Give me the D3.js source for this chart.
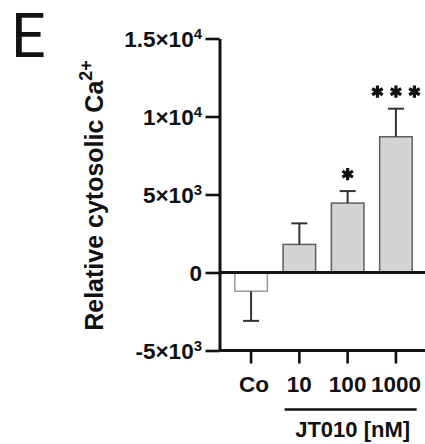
<!DOCTYPE html>
<html>
<head>
<meta charset="utf-8">
<script src="https://cdn.jsdelivr.net/npm/d3@7"></script>
<style>
  html, body { margin: 0; padding: 0; background: #fff; }
  svg { display: block; }
  text { font-family: "Liberation Sans", Arial, sans-serif; font-weight: bold; fill: #111; }
</style>
</head>
<body>
<svg id="chart" width="425" height="444"></svg>
<script>
// Groups and measured means with their one-sided SD
const categories = ["Co", "10", "100", "1000"];
const means = [-1200, 1800, 4450, 8700];
const errors = [1900, 1350, 770, 1800];
const significance = ["", "", "*", "***"];

// Y axis ticks, written as mantissa × 10^exponent
const tickValues = [-5000, 0, 5000, 10000, 15000];
const tickMantissa = ["-5×10", "0", "5×10", "1×10", "1.5×10"];
const tickExponent = ["3", "", "3", "4", "4"];

const yTitle = "Relative cytosolic Ca";
const yTitleSup = "2+";
const groupTitle = "JT010 [nM]";
const panelLetter = "E";

const svg = d3.select("#chart");

const x = d3.scaleBand()
  .domain(categories)
  .range([219.5, 427.5])
  .paddingInner(0.326)
  .paddingOuter(0.317);

const y = d3.scaleLinear()
  .domain([-5000, 15000])
  .range([350.5, 38.5]);

const xLeft = x.range()[0];
const xRight = 425;

// Bars
const bars = svg.append("g");
categories.forEach((c, i) => {
  const v = means[i];
  bars.append("rect")
    .attr("x", x(c))
    .attr("width", x.bandwidth())
    .attr("y", Math.min(y(v), y(0)))
    .attr("height", Math.abs(y(v) - y(0)))
    .attr("fill", i === 0 ? "#ffffff" : "#d4d4d4")
    .attr("stroke", i === 0 ? "#9a9a9a" : "#5e5e5e")
    .attr("stroke-width", 1.5);
});

// One-sided error bars, pointing away from zero
const err = svg.append("g").attr("stroke", "#333").attr("stroke-width", 2).attr("fill", "none");
categories.forEach((c, i) => {
  const v = means[i];
  const end = v >= 0 ? v + errors[i] : v - errors[i];
  const cx = x(c) + x.bandwidth() / 2;
  err.append("line").attr("x1", cx).attr("x2", cx).attr("y1", y(v)).attr("y2", y(end));
  err.append("line").attr("x1", cx - 8).attr("x2", cx + 8).attr("y1", y(end)).attr("y2", y(end));
});

// Significance asterisks above the error bars
const starShape = d3.symbol().type(d3.symbolAsterisk).size(104);
categories.forEach((c, i) => {
  const n = significance[i].length;
  if (!n) return;
  const cx = x(c) + x.bandwidth() / 2;
  const cy = y(means[i] + errors[i]) - 17;
  for (let k = 0; k < n; k++) {
    const sx = cx + (k - (n - 1) / 2) * 18.5;
    svg.append("path")
      .attr("d", starShape())
      .attr("transform", `translate(${sx},${cy})`)
      .attr("fill", "none")
      .attr("stroke", "#111")
      .attr("stroke-width", 3.2);
  }
});

// Zero line
svg.append("line")
  .attr("x1", xLeft).attr("x2", xRight)
  .attr("y1", y(0)).attr("y2", y(0))
  .attr("stroke", "#111").attr("stroke-width", 2.8);

// Y axis
const yAxis = svg.append("g")
  .attr("transform", `translate(${xLeft},0)`)
  .call(d3.axisLeft(y).tickValues(tickValues).tickSize(14).tickSizeOuter(0).tickFormat(""));
yAxis.select(".domain").attr("stroke", "#111").attr("stroke-width", 3);
yAxis.selectAll(".tick line").attr("stroke", "#111").attr("stroke-width", 2.6);

const yLabels = svg.append("g");
tickValues.forEach((v, i) => {
  const t = yLabels.append("text")
    .attr("x", 202)
    .attr("y", y(v) + 8)
    .attr("text-anchor", "end")
    .attr("font-size", 22.5);
  t.append("tspan").text(tickMantissa[i]);
  if (tickExponent[i]) {
    t.append("tspan").attr("dy", -8).attr("font-size", 15).text(tickExponent[i]);
  }
});

// X axis
const xAxis = svg.append("g")
  .attr("transform", `translate(0,${y(-5000)})`)
  .call(d3.axisBottom(x).tickSize(13).tickSizeOuter(0).tickFormat(""));
xAxis.select(".domain").attr("stroke", "#111").attr("stroke-width", 2.8)
  .attr("d", `M${xLeft},0H${xRight}`);
xAxis.selectAll(".tick line").attr("stroke", "#111").attr("stroke-width", 2.6);

categories.forEach(c => {
  svg.append("text")
    .attr("x", x(c) + x.bandwidth() / 2 + (c === "Co" ? 3 : 0))
    .attr("y", 391.5)
    .attr("text-anchor", "middle")
    .attr("font-size", 22.5)
    .text(c);
});

// Group bracket under the JT010 concentrations
const bx1 = x("10") + 1.5;
const bx2 = x("1000") + x.bandwidth() + 4.5;
svg.append("line")
  .attr("x1", bx1).attr("x2", bx2)
  .attr("y1", 409.5).attr("y2", 409.5)
  .attr("stroke", "#111").attr("stroke-width", 2.6);
svg.append("text")
  .attr("x", (bx1 + bx2) / 2 + 2)
  .attr("y", 436.5)
  .attr("text-anchor", "middle")
  .attr("font-size", 22)
  .text(groupTitle);

// Y axis title
const yt = svg.append("text")
  .attr("transform", `translate(103,195.5) rotate(-90)`)
  .attr("text-anchor", "middle")
  .attr("font-size", 25);
yt.append("tspan").text(yTitle);
yt.append("tspan").attr("dy", -11).attr("font-size", 18).text(yTitleSup);

// Panel letter
svg.append("text")
  .attr("x", 11)
  .attr("y", 57)
  .style("font-family", "Roboto, 'Noto Sans', sans-serif")
  .style("font-weight", "normal")
  .attr("font-size", 61)
  .text(panelLetter);
</script>
</body>
</html>
